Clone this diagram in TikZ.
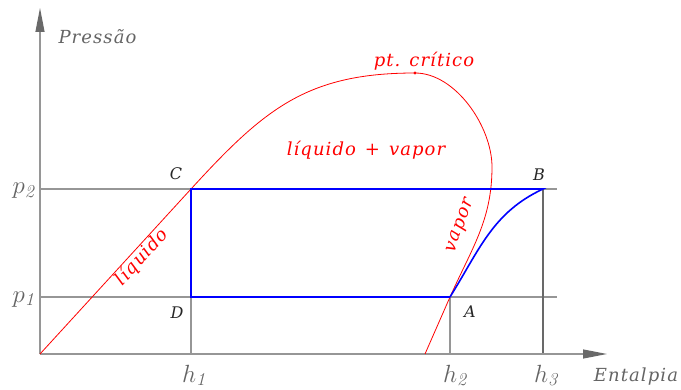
\documentclass[tikz,border=0pt]{standalone}
\usepackage{amsmath}
\usepackage{fontspec}
\usetikzlibrary{arrows.meta}

\newfontfamily\lblfont[LetterSpace=6]{DejaVu Serif}
\newfontfamily\ptfont{DejaVu Serif}

\definecolor{axisgray}{RGB}{105,105,105}
\definecolor{linegray}{RGB}{150,150,150}
\definecolor{labelgray}{RGB}{100,100,100}

\begin{document}
\begin{tikzpicture}[>={Triangle[length=24pt,width=9pt,color=axisgray]},x=1pt,y=1pt,
    txt/.style={font=\fontsize{18}{22}\selectfont\lblfont\itshape},
    mlbl/.style={font=\fontsize{26}{30}\selectfont,text=labelgray},
    ptlbl/.style={font=\fontsize{16}{19}\selectfont\ptfont\itshape,text=black!85}]
  \useasboundingbox (0,0) rectangle (681,389);

  % Points of the cycle and of the saturation curve
  \coordinate (O) at (40,35);
  \coordinate (C) at (191,200);
  \coordinate (D) at (191,92);
  \coordinate (A) at (450,92);
  \coordinate (B) at (543,200);
  \coordinate (K) at (415,316);
  \coordinate (R) at (492,222);
  \coordinate (E) at (425,35);
  \coordinate (h1) at (191,35);
  \coordinate (h2) at (450,35);
  \coordinate (h3) at (543,35);
  \coordinate (p1) at (40,92);
  \coordinate (p2) at (40,200);
  \coordinate (p1end) at (557,92);
  \coordinate (p2end) at (557,200);
  \coordinate (ytip) at (40,381);
  \coordinate (xtip) at (607,35);

  % Axes and guide lines
  \draw[linegray,line width=1.1pt] (p2) -- (p2end);
  \draw[linegray,line width=1.1pt] (p1) -- (p1end);
  \draw[linegray,line width=1.1pt] (h1) -- (D);
  \draw[linegray,line width=1.1pt] (h2) -- (A);
  \draw[axisgray,line width=1.1pt] (h3) -- (B);
  \draw[linegray,line width=1.2pt,->] (O) -- (ytip);
  \draw[linegray,line width=1.2pt,->] (O) -- (xtip);

  \node[txt,text=labelgray,anchor=west] (pres) at (55,352) {Pressão};
  \node[txt,text=labelgray] (ental) at (636,12) {Entalpia};
  \node[mlbl,anchor=base east] (lp2) at (38,195) {$p_{\mathit{2}}$};
  \node[mlbl,anchor=base east] (lp1) at (38,87) {$p_{\mathit{1}}$};
  \node[mlbl,anchor=base] (lh1) at (194,7) {$h_{\mathit{1}}$};
  \node[mlbl,anchor=base] (lh2) at (455,7) {$h_{\mathit{2}}$};
  \node[mlbl,anchor=base] (lh3) at (546,7) {$h_{\mathit{3}}$};

  % Saturation curve
  \draw[red,line width=0.8pt] (O) -- (C) to[out=47.5,in=180,looseness=1.1] (K)
    to[out=0,in=90,looseness=0.85] (R) to[out=-90,in=66] (A) -- (E);
  \fill[red] (K) circle (1.6pt);

  \node[txt,text=red] (crit) at (424,328) {pt.\hspace{0.5em}crítico};
  \node[txt,text=red] (mix) at (366,239) {líquido\hspace{0.5em}+\hspace{0.5em}vapor};
  \node[txt,text=red,rotate=47.5] (liq) at (142,132) {líquido};
  \node[txt,text=red,rotate=70] (vap) at (461,163) {vapor};

  % Cycle
  \draw[blue,line width=1.6pt] (A) to[out=58,in=205] (B) -- (C) -- (D) -- (A);

  \node[ptlbl] (lC) at (176,215) {C};
  \node[ptlbl] (lD) at (177,76) {D};
  \node[ptlbl] (lB) at (539,214) {B};
  \node[ptlbl] (lA) at (470,77) {A};
\end{tikzpicture}
\end{document}
